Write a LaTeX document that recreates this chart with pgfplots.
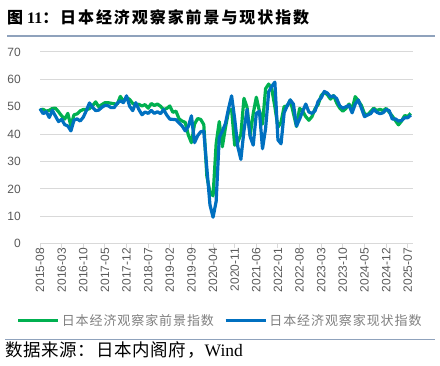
\documentclass[border=0pt]{standalone}
\usepackage{pgfplots}
\pgfplotsset{compat=1.18}
\usepackage{pgfplotstable}
\usepackage{fontspec}
\setmainfont{Liberation Serif}
\setsansfont{Liberation Sans}
\newfontfamily\cjkT[LetterSpace=12]{Noto Sans CJK SC}
\newfontfamily\cjkL[LetterSpace=7]{Noto Sans CJK SC}
\newfontfamily\cjkS[LetterSpace=4]{Noto Sans CJK SC}
\definecolor{cgreen}{HTML}{00B050}
\definecolor{cblue}{HTML}{0070C0}
\definecolor{cgrid}{HTML}{D9D9D9}
\definecolor{ctick}{HTML}{595959}
\definecolor{cleg}{HTML}{7F7F7F}
\definecolor{cline}{HTML}{8FA2BC}
\pgfplotstableread{
idx cur out
0 49.3 48.8
1 47.5 49.1
2 48.2 48.4
3 46.1 48.7
4 48.7 49.4
5 46.6 49.5
6 44.6 48.2
7 45.4 46.7
8 43.5 45.5
9 43.0 47.6
10 41.2 43.0
11 45.1 47.1
12 45.6 47.4
13 44.8 48.5
14 46.2 49.0
15 48.6 49.0
16 51.4 49.3
17 49.8 50.4
18 48.6 51.8
19 48.8 50.0
20 49.8 50.8
21 50.5 51.5
22 50.4 51.5
23 49.7 51.3
24 49.7 51.1
25 51.3 51.0
26 52.2 53.8
27 51.5 52.0
28 54.0 53.4
29 50.2 52.7
30 48.6 51.2
31 51.5 50.8
32 49.0 50.9
33 47.1 50.3
34 48.1 50.8
35 47.6 49.5
36 48.7 51.2
37 47.6 50.5
38 48.2 51.0
39 47.5 50.2
40 49.0 49.0
41 47.0 49.4
42 45.5 50.3
43 45.4 48.0
44 45.3 48.4
45 44.1 45.6
46 43.0 44.8
47 41.2 44.3
48 42.8 39.7
49 46.7 36.9
50 36.9 43.7
51 39.4 45.7
52 40.9 45.4
53 41.1 43.5
54 27.4 24.6
55 14.2 18.8
56 9.7 17.5
57 15.5 36.5
58 38.8 44.6
59 41.1 35.4
60 43.9 42.4
61 49.3 48.3
62 54.0 49.1
63 45.6 36.0
64 35.5 37.1
65 30.8 39.9
66 41.3 53.1
67 49.0 49.8
68 39.1 39.5
69 36.0 47.6
70 47.6 53.5
71 48.4 48.4
72 34.7 43.7
73 42.1 56.6
74 55.5 58.3
75 57.5 56.5
76 59.0 50.0
77 37.9 42.5
78 36.5 44.4
79 47.8 50.1
80 50.4 50.3
81 52.5 52.5
82 51.0 47.6
83 43.0 42.8
84 45.5 49.4
85 48.4 48.4
86 51.0 46.4
87 48.1 45.1
88 47.6 46.4
89 48.5 49.3
90 52.0 50.8
91 53.3 54.1
92 55.6 55.3
93 55.0 54.4
94 53.6 52.8
95 54.0 54.1
96 53.0 51.4
97 50.3 49.5
98 49.5 48.4
99 50.0 49.4
100 50.5 51.0
101 47.8 49.0
102 51.0 53.7
103 52.5 52.2
104 49.5 50.5
105 46.4 47.5
106 47.0 47.0
107 47.5 48.3
108 49.0 49.5
109 48.0 48.6
110 47.5 49.1
111 47.8 48.6
112 49.0 49.4
113 48.6 48.0
114 45.5 46.6
115 45.6 45.0
116 44.8 43.4
117 45.0 44.8
118 46.0 46.8
119 46.0 46.5
120 47.0 47.6
}\datatable
\begin{document}
\begin{tikzpicture}
\path[use as bounding box] (0bp,0bp) rectangle (440bp,366bp);
% title
\node[anchor=west, inner sep=0pt] at (7bp,349bp) {\fontsize{16bp}{16bp}\selectfont{\cjkT\bfseries 图}\hspace{4bp}{\bfseries 11}{\cjkT\bfseries ：日本经济观察家前景与现状指数}};
\draw[cline, line width=1.2bp] (7bp,330bp) -- (435bp,330bp);
% source
\draw[cline, line width=1.2bp] (5bp,26.5bp) -- (435bp,26.5bp);
\node[anchor=west, inner sep=0pt] at (5bp,16bp) {\fontsize{17.5bp}{17.5bp}\selectfont{\cjkS 数据来源：日本内阁府，}Wind};
\begin{axis}[
  at={(40bp,122.2bp)}, anchor=south west,
  scale only axis, width=372.7bp, height=191.8bp,
  xmin=0, xmax=120.6, ymin=0, ymax=70,
  clip=false,
  axis x line*=bottom, axis y line*=left,
  y axis line style={draw=none},
  x axis line style={draw=cgrid, line width=1bp},
  ytick={0,10,...,70},
  ymajorgrids, grid style={cgrid, line width=1bp},
  ytick style={draw=none},
  xtick={0,7,...,119},
  xticklabels={2015-08,2016-03,2016-10,2017-05,2017-12,2018-07,2019-02,2019-09,2020-04,2020-11,2021-06,2022-01,2022-08,2023-03,2023-10,2024-05,2024-12,2025-07},
  tick align=outside, major tick length=4bp,
  xtick style={draw=cgrid, line width=1bp},
  /pgf/number format/assume math mode=true,
  ticklabel style={font=\sffamily\fontsize{12bp}{12bp}\selectfont, text=ctick},
  yticklabel style={anchor=east, inner sep=0pt, xshift=-15bp},
  xticklabel style={rotate=90, anchor=east, inner sep=0pt},
  legend columns=2,
  legend style={at={(rel axis cs:-0.072,-0.401)}, anchor=west, draw=none, fill=none,
    font=\fontsize{13bp}{13bp}\selectfont\cjkL, text=cleg,
    /tikz/every even column/.append style={column sep=8bp}},
  legend cell align=left,
  legend image code/.code={\draw[#1, line width=3.5bp] (0bp,0bp) -- (40bp,0bp);},
]
\addplot[cgreen, line width=3.2bp, line join=round] table[x=idx, y=out]{\datatable};
\addlegendentry{日本经济观察家前景指数}
\addplot[cblue, line width=3.2bp, line join=round] table[x=idx, y=cur]{\datatable};
\addlegendentry{日本经济观察家现状指数}
\end{axis}
\end{tikzpicture}
\end{document}
